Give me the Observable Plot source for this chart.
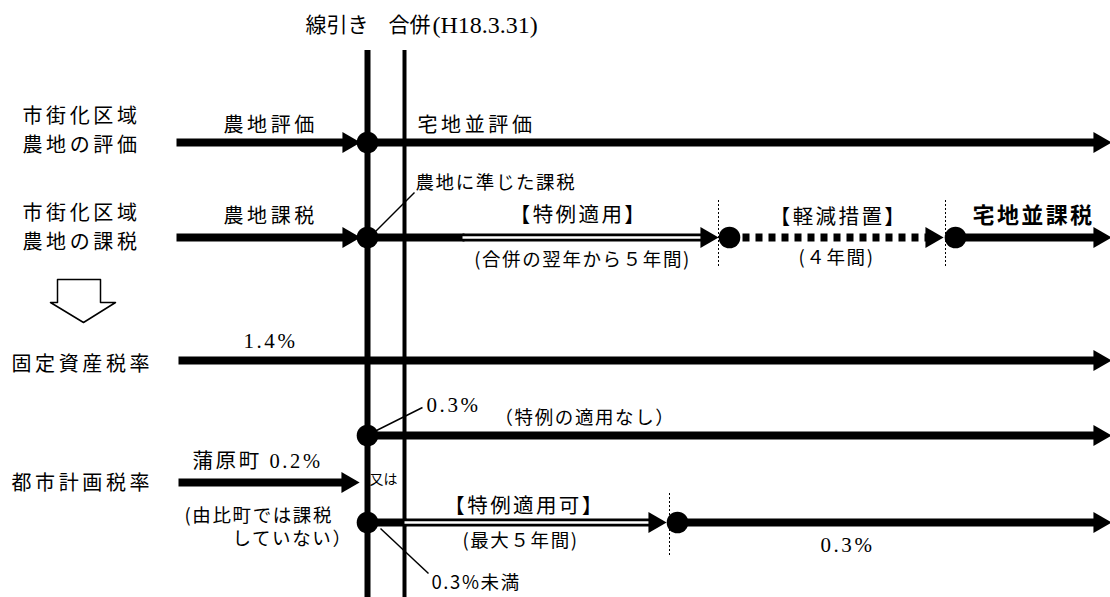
<!DOCTYPE html>
<html><head><meta charset="utf-8">
<script src="https://cdn.jsdelivr.net/npm/d3@7"></script>
<script src="https://cdn.jsdelivr.net/npm/@observablehq/plot@0.6"></script>
<style>
html,body{margin:0;padding:0;background:#fff;}
#chart svg{display:block;}
g[aria-description="main"] text{letter-spacing:3.6px;}
g[aria-description="bracket"] text{letter-spacing:2.4px;}
g[aria-description="small"] text{letter-spacing:1.6px;}
g[aria-description="serif"] text{letter-spacing:2.6px;}
</style></head><body><div id="chart"></div>
<script>
// ---- diagram data (diagram units) ----
const vertLines = [
  {name:"線引き", x:367, y1:50, y2:597},
  {name:"合併", x:404, y1:50, y2:597}
];
const solidSegs = [
  {x1:176,x2:350,y:142},{x1:367,x2:1100,y:142},
  {x1:176,x2:350,y:237},{x1:367,x2:464,y:237},{x1:955,x2:1100,y:237},
  {x1:178,x2:1100,y:360},
  {x1:367,x2:1100,y:435},
  {x1:178,x2:348,y:482},
  {x1:367,x2:406,y:522},{x1:677,x2:1100,y:522}
];
const doubleSegs = [{x1:462,x2:706,y:237},{x1:404,x2:654,y:522}];
const dashedSegs = [{x1:742,x2:930,y:237}];
const arrowTips = [
  {x:360,y:142},{x:1111,y:142},
  {x:360,y:237},{x:718,y:237},{x:943,y:237},{x:1111,y:237},
  {x:1111,y:360},{x:1111,y:435},
  {x:359,y:482},{x:666,y:522},{x:1111,y:522}
];
const nodes = [{x:367,y:142},{x:367,y:237},{x:729,y:237},{x:955,y:237},{x:367,y:435},{x:367,y:522},{x:677,y:522}];
const dottedGuides = [{x:718,y1:200,y2:268},{x:945,y1:200,y2:268},{x:669,y1:493,y2:556}];
const leaders = [
  {x1:373,y1:233,x2:414,y2:192},
  {x1:374,y1:431,x2:422,y2:407},
  {x1:380,y1:528,x2:428,y2:573}
];
const downArrow = [[57,279],[100,279],[100,302],[115,302],[83,322],[50,302],[57,302],[57,279]].map(([x,y])=>({x,y}));

const titleSans = [{t:"線引き", x:305, y:25}, {t:"合併", x:388, y:25}];
const titleSerif = [{t:"(H18.3.31)", x:432, y:25}];
const mainLabels = [
  {t:"市街化区域", x:22, y:116},
  {t:"農地の評価", x:22, y:145},
  {t:"市街化区域", x:22, y:213},
  {t:"農地の課税", x:22, y:242},
  {t:"固定資産税率", x:11, y:364},
  {t:"都市計画税率", x:11, y:483},
  {t:"農地評価", x:223, y:125},
  {t:"宅地並評価", x:417, y:125},
  {t:"農地課税", x:223, y:216}
];
const bracketLabels = [
  {t:"【特例適用】", x:578, y:215},
  {t:"【軽減措置】", x:838, y:217},
  {t:"【特例適用可】", x:524, y:506}
];
const boldLabels = [{t:"宅地並課税", x:972, y:215}];
const smallStart = [
  {t:"農地に準じた課税", x:415, y:183},
  {t:"（特例の適用なし）", x:494, y:418},
  {t:"(由比町では課税", x:184, y:516},
  {t:"0.3%未満", x:431, y:583}
];
const smallMiddle = [
  {t:"(合併の翌年から５年間)", x:582, y:260},
  {t:"(４年間)", x:836, y:258},
  {t:"(最大５年間)", x:520, y:541}
];
const smallEnd = [{t:"していない）", x:352, y:539}];
const serifStart = [
  {t:"0.3%", x:426, y:405}
];
const serifMiddle = [
  {t:"1.4%", x:270, y:341},
  {t:"0.3%", x:847, y:545}
];
const mixedLabels = [{t:"蒲原町 0.2%", x:192, y:461}];
const tinyLabels = [{t:"又は", x:369, y:479}];

const SANS = "'Noto Sans CJK JP', 'Noto Sans', sans-serif";
const SERIF = "'Liberation Serif', 'Noto Sans CJK JP', serif";
const txt = (data, opts) => Plot.text(data, {x:"x", y:"y", text:"t", fill:"#000", ...opts});

const chart = Plot.plot({
  width: 1110, height: 597, margin: 0,
  x: {domain:[0,1110], range:[0,1110], axis:null},
  y: {domain:[0,597], range:[0,597], axis:null},
  style: {background:"#fff"},
  marks: [
    Plot.ruleX([vertLines[0]], {x:"x", y1:"y1", y2:"y2", stroke:"#000", strokeWidth:6}),
    Plot.ruleX([vertLines[1]], {x:"x", y1:"y1", y2:"y2", stroke:"#000", strokeWidth:4}),
    Plot.ruleX(dottedGuides, {x:"x", y1:"y1", y2:"y2", stroke:"#000", strokeWidth:1, strokeDasharray:"2,2"}),
    Plot.link(leaders, {x1:"x1", y1:"y1", x2:"x2", y2:"y2", stroke:"#000", strokeWidth:1.5}),
    Plot.link(solidSegs, {x1:"x1", x2:"x2", y1:"y", y2:"y", stroke:"#000", strokeWidth:8}),
    Plot.link(doubleSegs, {x1:"x1", x2:"x2", y1:"y", y2:"y", stroke:"#000", strokeWidth:8}),
    Plot.link(doubleSegs, {x1:"x1", x2:"x2", y1:"y", y2:"y", stroke:"#fff", strokeWidth:2.6}),
    Plot.link(dashedSegs, {x1:"x1", x2:"x2", y1:"y", y2:"y", stroke:"#000", strokeWidth:8, strokeDasharray:"7,6"}),
    Plot.dot(arrowTips, {x:d=>d.x-12, y:"y", symbol:"triangle", rotate:90, r:7.8, fill:"#000", stroke:"none"}),
    Plot.dot(nodes, {x:"x", y:"y", r:10.8, fill:"#000", stroke:"none"}),
    Plot.line(downArrow, {x:"x", y:"y", stroke:"#000", strokeWidth:1.5, fill:"#fff", curve:"linear"}),
    txt(titleSans, {textAnchor:"start", fontSize:21, fontFamily:SANS}),
    txt(titleSerif, {textAnchor:"start", fontSize:24, fontFamily:SERIF}),
    txt(mainLabels, {textAnchor:"start", fontSize:20, fontFamily:SANS, ariaDescription:"main"}),
    txt(bracketLabels, {textAnchor:"middle", fontSize:20.5, fontFamily:SANS, ariaDescription:"bracket"}),
    txt(boldLabels, {textAnchor:"start", fontSize:22, fontWeight:"bold", fontFamily:SANS, ariaDescription:"bracket"}),
    txt(smallStart, {textAnchor:"start", fontSize:18.5, fontFamily:SANS, ariaDescription:"small"}),
    txt(smallMiddle, {textAnchor:"middle", fontSize:18.5, fontFamily:SANS, ariaDescription:"small"}),
    txt(smallEnd, {textAnchor:"end", fontSize:18.5, fontFamily:SANS, ariaDescription:"small"}),
    txt(serifStart, {textAnchor:"start", fontSize:21, fontFamily:SERIF, ariaDescription:"serif"}),
    txt(serifMiddle, {textAnchor:"middle", fontSize:21, fontFamily:SERIF, ariaDescription:"serif"}),
    txt(mixedLabels, {textAnchor:"start", fontSize:20.5, fontFamily:SERIF, ariaDescription:"serif"}),
    txt(tinyLabels, {textAnchor:"start", fontSize:14, fontFamily:SANS})
  ]
});
document.getElementById("chart").appendChild(chart);
</script></body></html>
